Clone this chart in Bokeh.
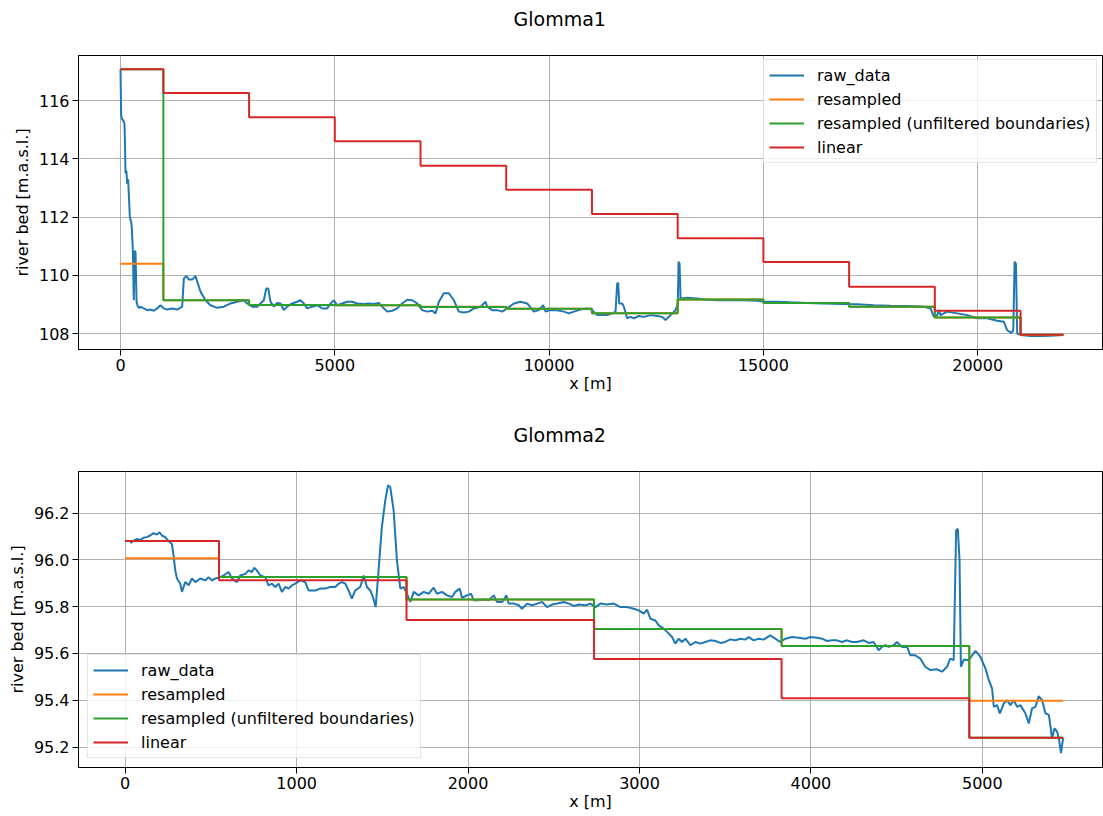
from bokeh.plotting import figure
from bokeh.layouts import column
from bokeh.models import Range1d, SingleIntervalTicker, PrintfTickFormatter, Legend, LegendItem, Title
from bokeh.embed import file_html
from bokeh.resources import INLINE

# ---------------- data: Glomma1 ----------------
g1_raw = [
    (0, 117.08), (15, 115.5), (40, 115.35), (62, 115.33), (93, 115.2), (105, 114.5), (117, 113.5),
    (130, 113.6), (140, 113.55), (155, 113.15), (178, 113.3), (200, 112.6), (218, 112.0), (235, 111.9),
    (249, 111.85), (265, 111.6), (290, 110.8), (305, 109.5), (311, 109.15), (322, 110.2), (335, 110.85),
    (350, 110.8), (362, 110.0), (375, 109.1), (400, 108.95), (440, 108.88), (467, 108.93), (544, 108.87),
    (622, 108.81), (700, 108.83), (778, 108.79), (855, 108.87), (933, 108.98), (1011, 108.87),
    (1089, 108.83), (1206, 108.87), (1322, 108.83), (1400, 108.9), (1439, 108.93), (1478, 109.9),
    (1540, 109.98), (1594, 109.86), (1672, 109.86), (1750, 109.98), (1804, 109.73), (1867, 109.44),
    (1983, 109.15), (2100, 108.98), (2256, 108.89), (2411, 108.93), (2567, 109.04), (2722, 109.1),
    (2878, 109.15), (2956, 109.04), (3072, 108.93), (3189, 108.93), (3267, 109.04), (3344, 109.15),
    (3400, 109.55), (3447, 109.55), (3500, 109.1), (3578, 108.93), (3656, 109.06), (3733, 109.04),
    (3811, 108.81), (3889, 108.93), (4006, 109.04), (4122, 109.1), (4200, 109.15), (4278, 109.04),
    (4356, 108.87), (4472, 108.93), (4589, 108.98), (4706, 108.87), (4822, 108.87), (4900, 109.04),
    (4978, 109.15), (5056, 108.98), (5172, 109.04), (5289, 109.1), (5406, 109.1), (5522, 109.04),
    (5678, 109.02), (5794, 109.04), (5911, 109.02), (6028, 109.06), (6106, 108.93), (6222, 108.76),
    (6339, 108.79), (6456, 108.87), (6572, 109.04), (6689, 109.17), (6806, 109.15), (6922, 109.04),
    (7039, 108.81), (7156, 108.76), (7272, 108.79), (7350, 108.7), (7428, 109.1), (7544, 109.39),
    (7661, 109.39), (7778, 109.15), (7894, 108.76), (8011, 108.73), (8128, 108.76), (8244, 108.87),
    (8400, 108.93), (8517, 109.1), (8556, 108.93), (8672, 108.81), (8789, 108.81), (8906, 108.76),
    (9022, 108.87), (9178, 109.04), (9333, 109.1), (9489, 109.04), (9644, 108.76), (9761, 108.81),
    (9862, 108.98), (9917, 108.76), (10033, 108.81), (10189, 108.81), (10344, 108.76), (10461, 108.7),
    (10578, 108.76), (10733, 108.83), (10889, 108.87), (11006, 108.81), (11122, 108.64), (11200, 108.64),
    (11356, 108.64), (11472, 108.7), (11550, 108.76), (11589, 109.72), (11612, 109.75), (11636, 109.04),
    (11706, 109.04), (11744, 108.93), (11822, 108.53), (11900, 108.58), (11978, 108.53), (12094, 108.61),
    (12211, 108.58), (12367, 108.64), (12522, 108.61), (12639, 108.58), (12717, 108.47), (12833, 108.64),
    (12950, 108.81), (13004, 109.04), (13020, 110.47), (13044, 110.41), (13067, 109.21), (13222, 109.24),
    (13456, 109.21), (13689, 109.17), (13922, 109.15), (14233, 109.15), (14544, 109.15), (14856, 109.13),
    (15011, 109.1), (15322, 109.1), (15633, 109.08), (16022, 109.06), (16411, 109.04), (16878, 109.02),
    (17189, 109.01), (17578, 108.98), (17967, 108.96), (18356, 108.95), (18744, 108.93), (18900, 108.87),
    (18978, 108.58), (19056, 108.64), (19094, 108.81), (19133, 108.64), (19289, 108.76), (19522, 108.7),
    (19756, 108.64), (19989, 108.53), (20222, 108.53), (20456, 108.45), (20611, 108.41), (20689, 108.12),
    (20783, 108.03), (20830, 108.12), (20861, 110.47), (20892, 110.41), (20922, 108.01), (21000, 107.96),
    (21233, 107.92), (21467, 107.92), (21700, 107.93), (22000, 107.96),
]
g1_bounds = [0, 1000, 3000, 5000, 7000, 9000, 11000, 13000, 15000, 17000, 19000, 21000, 22000]
g1_resampled = [110.40, 109.15, 108.99, 108.98, 108.93, 108.86, 108.70, 109.18, 109.06, 108.93, 108.56, 107.96]
g1_unfiltered = [117.08, 109.15, 108.99, 108.98, 108.92, 108.86, 108.70, 109.18, 109.06, 108.93, 108.56, 107.97]
g1_linear = [117.08, 116.26, 115.43, 114.61, 113.77, 112.94, 112.11, 111.28, 110.46, 109.61, 108.79, 107.97]

# ---------------- data: Glomma2 ----------------
g2_raw = [
    (30, 96.071), (49, 96.082), (68, 96.089), (88, 96.085), (107, 96.094), (126, 96.097), (146, 96.104),
    (165, 96.114), (185, 96.108), (200, 96.118), (214, 96.104), (233, 96.097), (253, 96.080), (272, 96.068),
    (282, 96.019), (292, 95.955), (302, 95.92), (321, 95.898), (331, 95.863), (350, 95.905), (370, 95.891),
    (389, 95.92), (409, 95.905), (438, 95.92), (467, 95.912), (486, 95.926), (506, 95.912), (525, 95.92),
    (555, 95.926), (574, 95.933), (603, 95.948), (623, 95.92), (652, 95.905), (671, 95.933), (700, 95.94),
    (720, 95.955), (739, 95.948), (753, 95.966), (768, 95.955), (788, 95.933), (817, 95.926), (836, 95.891),
    (856, 95.898), (875, 95.884), (895, 95.898), (914, 95.863), (934, 95.884), (953, 95.877), (973, 95.891),
    (992, 95.898), (1021, 95.912), (1050, 95.905), (1070, 95.869), (1109, 95.869), (1138, 95.877),
    (1167, 95.877), (1196, 95.884), (1225, 95.884), (1245, 95.898), (1264, 95.905), (1284, 95.898),
    (1303, 95.869), (1322, 95.834), (1342, 95.869), (1371, 95.884), (1391, 95.933), (1410, 95.884),
    (1430, 95.869), (1445, 95.841), (1461, 95.798), (1478, 95.955), (1497, 96.14), (1517, 96.254),
    (1533, 96.318), (1546, 96.311), (1566, 96.211), (1585, 95.998), (1605, 95.877), (1624, 95.884),
    (1644, 95.855), (1663, 95.82), (1683, 95.863), (1712, 95.848), (1741, 95.863), (1770, 95.855),
    (1799, 95.881), (1819, 95.855), (1848, 95.863), (1877, 95.848), (1906, 95.841), (1926, 95.863),
    (1951, 95.877), (1965, 95.838), (1994, 95.848), (2018, 95.855), (2033, 95.827), (2062, 95.827),
    (2091, 95.83), (2120, 95.827), (2150, 95.848), (2169, 95.82), (2199, 95.82), (2224, 95.848),
    (2237, 95.813), (2267, 95.813), (2296, 95.806), (2315, 95.791), (2344, 95.813), (2374, 95.806),
    (2403, 95.813), (2432, 95.82), (2461, 95.798), (2490, 95.809), (2520, 95.813), (2559, 95.82),
    (2588, 95.813), (2617, 95.803), (2646, 95.809), (2685, 95.806), (2714, 95.813), (2743, 95.798),
    (2772, 95.813), (2811, 95.809), (2850, 95.813), (2889, 95.798), (2928, 95.798), (2967, 95.791),
    (2996, 95.784), (3025, 95.77), (3044, 95.787), (3064, 95.748), (3093, 95.741), (3112, 95.72),
    (3141, 95.706), (3161, 95.692), (3190, 95.67), (3209, 95.642), (3229, 95.663), (3248, 95.649),
    (3268, 95.663), (3297, 95.635), (3326, 95.649), (3355, 95.642), (3384, 95.649), (3413, 95.656),
    (3443, 95.653), (3472, 95.645), (3501, 95.649), (3530, 95.66), (3559, 95.656), (3588, 95.663),
    (3617, 95.659), (3637, 95.67), (3666, 95.656), (3695, 95.663), (3724, 95.659), (3763, 95.677),
    (3792, 95.663), (3821, 95.649), (3851, 95.663), (3889, 95.67), (3928, 95.667), (3968, 95.663),
    (3997, 95.67), (4036, 95.667), (4065, 95.663), (4094, 95.653), (4123, 95.656), (4152, 95.656),
    (4181, 95.649), (4211, 95.656), (4240, 95.649), (4269, 95.649), (4308, 95.656), (4337, 95.645),
    (4366, 95.649), (4395, 95.614), (4415, 95.628), (4434, 95.635), (4454, 95.628), (4483, 95.635),
    (4502, 95.649), (4531, 95.628), (4561, 95.628), (4580, 95.592), (4609, 95.592), (4638, 95.578),
    (4667, 95.543), (4697, 95.529), (4736, 95.532), (4765, 95.522), (4794, 95.543), (4813, 95.578),
    (4833, 95.571), (4847, 96.126), (4857, 96.133), (4867, 95.998), (4875, 95.543), (4892, 95.574),
    (4921, 95.571), (4941, 95.592), (4960, 95.611), (4989, 95.585), (5018, 95.536), (5038, 95.486),
    (5057, 95.45), (5067, 95.372), (5086, 95.379), (5102, 95.344), (5125, 95.386), (5144, 95.4),
    (5164, 95.379), (5183, 95.4), (5203, 95.372), (5222, 95.379), (5251, 95.344), (5271, 95.301),
    (5290, 95.365), (5310, 95.372), (5329, 95.417), (5349, 95.4), (5368, 95.344), (5388, 95.337),
    (5407, 95.238), (5421, 95.28), (5436, 95.266), (5446, 95.238), (5459, 95.174), (5471, 95.238),
]
g2_bounds = [0, 547, 1641, 2735, 3829, 4924, 5472]
g2_resampled = [96.007, 95.927, 95.830, 95.704, 95.632, 95.398]
g2_unfiltered = [96.080, 95.927, 95.830, 95.704, 95.632, 95.240]
g2_linear = [96.080, 95.913, 95.743, 95.576, 95.408, 95.240]

series_labels = ["raw_data", "resampled", "resampled (unfiltered boundaries)", "linear"]
x_label = "x [m]"
y_label = "river bed [m.a.s.l.]"

BLUE, ORANGE, GREEN, RED = "#1f77b4", "#ff7f0e", "#2ca02c", "#d62728"
FONT = "DejaVu Sans"


def make(title, raw, bounds, resampled, unfiltered, linear, xr, yr, xstep, ystep, yfmt,
         height, left, top, bottom, title_offset, legend_loc):
    p = figure(width=1103, height=height, output_backend="svg", toolbar_location=None, title=None,
               x_range=Range1d(*xr), y_range=Range1d(*yr),
               min_border_left=left, min_border_right=1, min_border_top=top, min_border_bottom=bottom)
    p.background_fill_color = "white"
    p.border_fill_color = "white"
    p.outline_line_color = "black"
    p.outline_line_width = 1

    for ax in (p.xaxis[0], p.yaxis[0]):
        ax.major_label_text_font = FONT
        ax.major_label_text_font_size = "16px"
        ax.major_label_text_color = "black"
        ax.axis_label_text_font = FONT
        ax.axis_label_text_font_size = "16px"
        ax.axis_label_text_font_style = "normal"
        ax.axis_label_text_color = "black"
        ax.major_tick_in = 0
        ax.major_tick_out = 6
        ax.minor_tick_in = 0
        ax.minor_tick_out = 0
        ax.major_tick_line_color = "black"
        ax.axis_line_color = "black"
        ax.major_label_standoff = 3
    p.xaxis.axis_label = x_label
    p.yaxis.axis_label = y_label
    p.xaxis.axis_label_standoff = 0
    p.yaxis.axis_label_standoff = 4
    p.xaxis.ticker = SingleIntervalTicker(interval=xstep)
    p.yaxis.ticker = SingleIntervalTicker(interval=ystep)
    p.xaxis.formatter = PrintfTickFormatter(format="%d")
    p.yaxis.formatter = PrintfTickFormatter(format=yfmt)
    p.xgrid.ticker = SingleIntervalTicker(interval=xstep)
    p.ygrid.ticker = SingleIntervalTicker(interval=ystep)
    for g in (p.xgrid[0], p.ygrid[0]):
        g.grid_line_color = "#b0b0b0"
        g.grid_line_width = 1

    rx = [pt[0] for pt in raw]
    ry = [pt[1] for pt in raw]
    r0 = p.line(rx, ry, line_color=BLUE, line_width=2)
    rends = [r0]
    for levels, col in ((resampled, ORANGE), (unfiltered, GREEN), (linear, RED)):
        ys = list(levels) + [levels[-1]]
        rends.append(p.step(bounds, ys, mode="after", line_color=col, line_width=2))

    legend = Legend(items=[LegendItem(label=lab, renderers=[r]) for lab, r in zip(series_labels, rends)],
                    location=legend_loc)
    legend.label_text_font = FONT
    legend.label_text_font_size = "16px"
    legend.label_text_color = "black"
    legend.glyph_width = 35
    legend.glyph_height = 20
    legend.label_height = 20
    legend.label_standoff = 13
    legend.spacing = 4
    legend.padding = 5
    legend.margin = 0
    legend.border_line_color = "#cccccc"
    legend.border_line_width = 1
    legend.background_fill_alpha = 0.8
    p.add_layout(legend)

    # spacer (blank) then the real title further up
    p.add_layout(Title(text=" ", text_font=FONT, text_font_size="19px", standoff=0), "above")
    p.add_layout(Title(text=title, text_font=FONT, text_font_size="19px", text_font_style="normal",
                       text_color="black", align="left", offset=title_offset, standoff=4), "above")
    return p


p1 = make("Glomma1", g1_raw, g1_bounds, g1_resampled, g1_unfiltered, g1_linear,
          (-980, 22912), (107.46, 117.55), 5000, 2, "%d",
          408, 78, 55, 59, 435, (685, 186))
p2 = make("Glomma2", g2_raw, g2_bounds, g2_resampled, g2_unfiltered, g2_linear,
          (-272.5, 5701), (95.1125, 96.3775), 1000, 0.2, "%.1f",
          408, 78, 63, 49, 435, (9, 9))

layout = column(p1, p2, spacing=0)
open("out.html", "w").write(file_html(layout, INLINE))
